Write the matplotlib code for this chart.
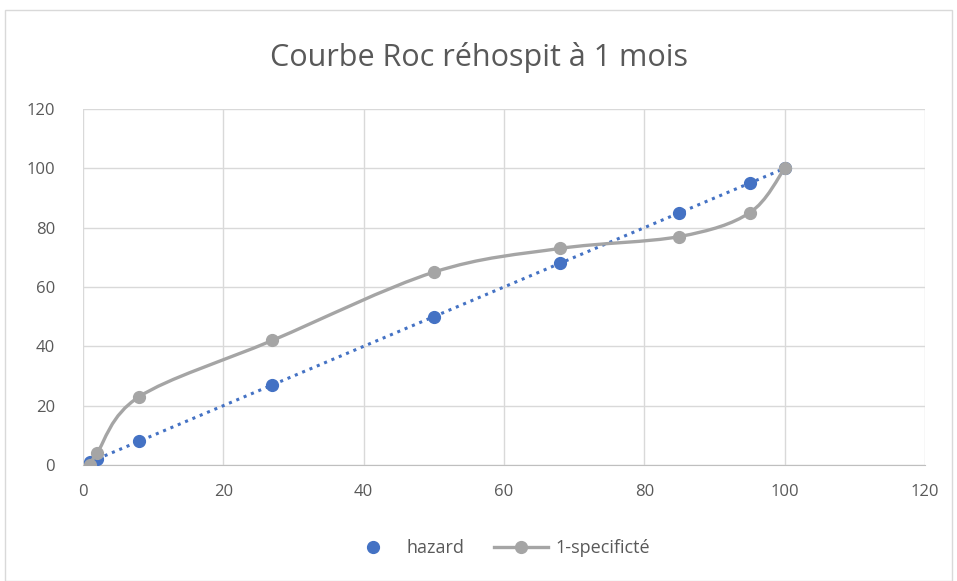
import numpy as np
import matplotlib.pyplot as plt
from matplotlib.path import Path
from matplotlib.patches import PathPatch, Rectangle
from matplotlib.lines import Line2D

# --- data ---
x_vals = [1, 2, 8, 27, 50, 68, 85, 95, 100]
hazard = [1, 2, 8, 27, 50, 68, 85, 95, 100]
specif = [0, 4, 23, 42, 65, 73, 77, 85, 100]
ticks = [0, 20, 40, 60, 80, 100, 120]

BLUE = '#4472C4'
GRAY = '#A5A5A5'
TXT = '#595959'

plt.rcParams['font.family'] = ['Open Sans', 'DejaVu Sans']

fig = plt.figure(figsize=(9.57, 5.81), dpi=100)
ax = fig.add_axes([0.0867, 0.1997, 0.8799, 0.6127])

# chart border
fig.patches.append(Rectangle((0.005, 0.0), 0.99, 0.983, transform=fig.transFigure,
                             fill=False, edgecolor='#d9d9d9', lw=1))

ax.plot(x_vals, hazard, linestyle=(0, (1, 1.6)), color=BLUE, lw=2.2, zorder=2)
ax.plot(x_vals, hazard, 'o', color=BLUE, ms=8.5, zorder=3)


def smooth_path(xs, ys):
    # Excel-like smoothed line: cubic Bezier with Catmull-Rom control points
    pts = np.column_stack([xs, ys]).astype(float)
    p = np.vstack([pts[0], pts, pts[-1]])
    verts = [pts[0]]
    codes = [Path.MOVETO]
    for i in range(1, len(p) - 2):
        c1 = p[i] + (p[i + 1] - p[i - 1]) / 6
        c2 = p[i + 1] - (p[i + 2] - p[i]) / 6
        verts += [c1, c2, p[i + 1]]
        codes += [Path.CURVE4] * 3
    return Path(verts, codes)


ax.add_patch(PathPatch(smooth_path(x_vals, specif), fill=False, edgecolor=GRAY,
                       lw=2.4, zorder=4, capstyle='round'))
ax.plot(x_vals, specif, 'o', color=GRAY, ms=8.5, zorder=5)

ax.set_xlim(0, 120)
ax.set_ylim(0, 120)
ax.set_xticks(ticks)
ax.set_yticks(ticks)
ax.grid(True, color='#d9d9d9', lw=1)
ax.set_axisbelow(True)
for s in ['top', 'right', 'left']:
    ax.spines[s].set_visible(False)
ax.spines['bottom'].set_color('#bfbfbf')
ax.tick_params(length=0, colors=TXT, labelsize=12)
ax.tick_params(axis='y', pad=20)
ax.tick_params(axis='x', pad=14)

fig.suptitle('Courbe Roc réhospit à 1 mois', y=0.927, fontsize=22, color=TXT)

handles = [Line2D([], [], marker='o', ls='none', color=BLUE, ms=8.5),
           Line2D([], [], marker='o', color=GRAY, lw=2.4, ms=8.5)]
fig.legend(handles, ['hazard', '1-specificté'], loc='center', bbox_to_anchor=(0.52, 0.057),
           ncol=2, frameon=False, fontsize=13, labelcolor=TXT, handlelength=3,
           handletextpad=0.4, columnspacing=1.6)

fig.savefig('out.png', dpi=100)
